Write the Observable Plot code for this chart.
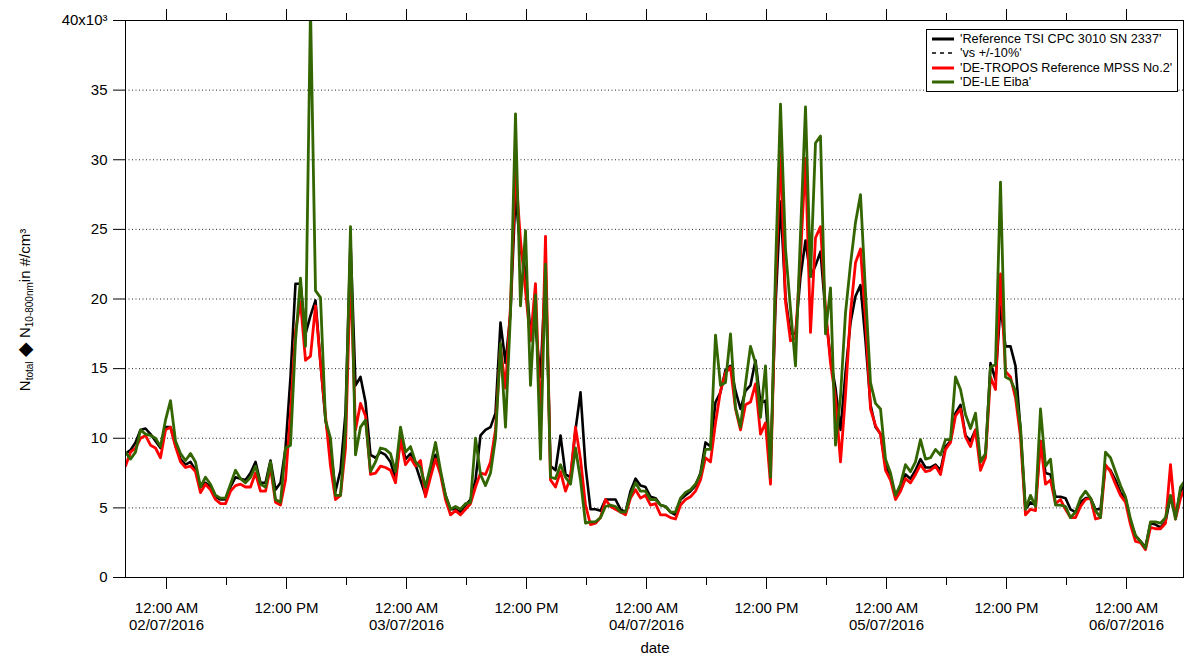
<!DOCTYPE html>
<html>
<head>
<meta charset="utf-8">
<script src="https://cdn.jsdelivr.net/npm/d3@7"></script>
<script src="https://cdn.jsdelivr.net/npm/@observablehq/plot@0.6"></script>
<style>
  body { margin: 0; background: #fff; font-family: "Liberation Sans", Arial, sans-serif; }
  #wrap { position: relative; width: 1184px; height: 655px; overflow: hidden; }
  #legend { position: absolute; left: 926px; top: 29px; width: 252px; height: 63px; border: 1px solid #000;
            background: #fff; font-size: 12.7px; box-sizing: border-box; padding-top: 2px; }
  #legend .row { height: 14.3px; line-height: 14.3px; white-space: nowrap; display: flex; align-items: center; }
  #legend svg { margin-left: 5px; margin-right: 6px; flex: none; }
  #ylab { position: absolute; left: 24px; top: 310px; transform: translate(-50%, -50%) rotate(-90deg);
          white-space: nowrap; font-size: 15px; }
  #ylab sub { font-size: 10px; vertical-align: -3px; }
  #ylab .dia { font-size: 19px; vertical-align: -1px; }
  #xlab { position: absolute; left: 655px; top: 640px; transform: translateX(-50%); font-size: 15px; line-height: 15px; }
</style>
</head>
<body>
<div id="wrap">
  <div id="chart"></div>
  <div id="legend"></div>
  <div id="ylab">N<sub>total</sub> <span class="dia">◆</span> N<sub>10-800nm</sub>in #/cm³</div>
  <div id="xlab">date</div>
</div>
<script>
// ---- Data (values in 10^3 #/cm³, 30-minute steps starting 01/07/2016 19:54) ----
const startTime = "2016-07-01T19:54:00Z";
const stepMinutes = 30;

const seriesNames = [
  "'Reference TSI CPC 3010 SN 2337'",
  "'vs +/-10%'",
  "'DE-TROPOS Reference MPSS No.2'",
  "'DE-LE Eiba'"
];
const seriesColors = ["#000000", "#000000", "#ff0000", "#336600"];

const refCPC = [
  8.9, 9.15, 9.7, 10.6, 10.7, 10.3, 9.8, 9.3, 10.8, 10.8,
  9.5, 8.5, 8.1, 8.3, 7.7, 6.5, 6.8, 6.5, 5.8, 5.6,
  5.6, 6.5, 7.2, 7.1, 7.0, 7.5, 8.3, 6.8, 6.8, 8.4,
  6.3, 6.8, 9.3, 14.4, 21.1, 21.1, 17.5, 18.8, 19.9, 15.4,
  11.3, 9.3, 6.2, 7.7, 11.8, 24.2, 13.8, 14.4, 12.6, 8.8,
  8.6, 9.0, 8.8, 8.3, 7.1, 10.0, 8.5, 8.9, 8.1, 7.0,
  5.9, 7.7, 8.8, 7.5, 5.9, 4.9, 4.9, 4.7, 5.2, 5.6,
  7.0, 10.2, 10.6, 10.8, 11.8, 18.3, 15.4, 19.0, 27.5, 23.6,
  22.0, 17.5, 18.0, 14.4, 22.1, 8.0, 7.7, 10.2, 7.4, 7.2,
  10.6, 13.3, 8.0, 4.9, 4.9, 4.8, 5.6, 5.6, 5.6, 4.9,
  4.7, 6.2, 7.1, 6.6, 6.5, 5.8, 5.7, 5.2, 5.1, 4.7,
  4.5, 5.6, 5.9, 6.2, 6.6, 7.5, 9.7, 9.4, 12.6, 13.3,
  14.9, 15.2, 13.4, 12.1, 13.4, 13.8, 15.6, 12.5, 12.7, 8.0,
  19.5, 27.0, 20.1, 17.5, 17.5, 21.6, 24.2, 21.6, 22.4, 23.4,
  19.0, 15.7, 13.6, 10.6, 14.7, 18.3, 20.2, 21.0, 17.0, 12.4,
  10.8, 10.3, 8.0, 7.2, 5.8, 6.5, 7.4, 7.1, 7.7, 8.5,
  7.9, 7.9, 8.1, 7.7, 9.4, 9.8, 11.8, 12.4, 10.2, 9.8,
  10.6, 8.4, 8.8, 15.4, 14.2, 19.5, 16.6, 16.6, 15.2, 10.6,
  4.9, 5.4, 5.2, 9.8, 7.5, 7.4, 5.8, 5.8, 5.7, 4.9,
  4.7, 5.4, 5.7, 5.7, 4.9, 4.9, 8.0, 7.7, 7.0, 6.1,
  5.7, 4.0, 3.0, 2.6, 2.2, 3.9, 3.8, 3.6, 4.0, 5.8,
  4.4, 6.2, 6.7
];

const troposMPSS = [
  8.0, 9.0, 9.3, 10.0, 10.2, 9.5, 9.3, 8.6, 10.6, 10.8,
  9.4, 8.3, 7.9, 8.0, 7.6, 6.1, 6.7, 6.3, 5.6, 5.3,
  5.3, 6.2, 6.6, 6.7, 6.5, 6.5, 7.5, 6.2, 6.2, 7.9,
  5.4, 5.2, 7.0, 11.8, 17.7, 19.8, 15.6, 15.9, 19.5, 15.4,
  11.6, 8.0, 5.6, 5.9, 9.3, 22.1, 10.6, 12.5, 11.6, 7.4,
  7.5, 8.0, 7.9, 7.7, 6.8, 9.9, 8.1, 8.6, 8.0, 8.4,
  5.8, 7.2, 8.5, 7.4, 5.6, 4.5, 4.8, 4.5, 4.9, 5.3,
  6.5, 7.5, 7.4, 8.3, 10.6, 16.5, 13.6, 19.5, 29.3, 24.2,
  20.6, 17.0, 21.1, 10.6, 24.5, 7.0, 6.5, 7.6, 6.2, 7.2,
  10.8, 8.5, 5.2, 3.8, 3.9, 4.3, 5.6, 5.1, 4.9, 4.7,
  4.5, 5.7, 6.3, 5.7, 5.9, 5.2, 5.3, 4.5, 4.5, 4.3,
  4.2, 5.2, 5.6, 5.8, 6.2, 7.0, 8.6, 8.3, 11.1, 13.4,
  14.7, 15.1, 12.1, 10.6, 12.4, 12.6, 13.9, 10.3, 11.1, 6.7,
  20.8, 30.6, 19.8, 17.0, 17.2, 23.0, 30.1, 17.6, 24.4, 25.2,
  19.3, 15.4, 12.9, 8.3, 13.1, 19.0, 22.6, 23.6, 18.5, 12.1,
  10.9, 10.3, 7.7, 7.0, 5.6, 6.2, 7.1, 6.8, 7.4, 8.1,
  7.6, 7.7, 8.0, 7.4, 9.2, 9.7, 11.6, 12.1, 10.1, 9.4,
  10.6, 7.7, 8.6, 14.4, 13.5, 21.8, 14.8, 14.4, 12.9, 10.1,
  4.5, 4.9, 4.8, 9.8, 6.7, 7.0, 5.3, 5.6, 4.9, 4.3,
  4.3, 5.1, 5.6, 5.7, 4.2, 4.3, 8.1, 7.6, 6.7, 5.9,
  5.4, 3.8, 2.6, 2.5, 2.0, 3.6, 3.5, 3.5, 3.9, 8.1,
  4.2, 5.7, 6.5
];

const leEiba = [
  9.0, 8.5, 9.0, 10.6, 10.3, 10.2, 10.0, 9.4, 11.3, 12.7,
  9.8, 8.9, 8.4, 8.9, 8.3, 6.5, 7.2, 6.7, 5.9, 5.7,
  5.7, 6.7, 7.7, 7.1, 6.8, 7.2, 8.0, 6.7, 6.5, 8.3,
  5.6, 5.4, 9.3, 9.5, 17.0, 21.5, 16.6, 41.0, 20.6, 20.1,
  11.3, 10.0, 5.9, 5.9, 10.6, 25.2, 8.8, 10.8, 11.3, 7.6,
  8.3, 9.3, 9.2, 8.9, 7.6, 10.8, 9.0, 9.4, 8.3, 7.9,
  6.5, 8.0, 9.7, 7.7, 5.9, 4.9, 5.1, 4.9, 5.3, 5.4,
  10.0, 7.4, 6.6, 7.5, 10.0, 16.8, 10.8, 19.0, 33.3, 19.5,
  24.9, 13.8, 20.3, 8.5, 22.5, 7.2, 7.1, 8.1, 7.2, 6.7,
  9.3, 7.0, 3.9, 4.0, 4.0, 4.3, 5.1, 5.2, 5.1, 4.7,
  4.7, 5.9, 6.8, 6.2, 6.2, 5.6, 5.6, 5.2, 5.1, 4.7,
  4.7, 5.7, 6.1, 6.3, 6.7, 7.4, 9.2, 9.2, 17.4, 13.8,
  14.0, 17.5, 12.2, 10.8, 13.9, 16.6, 15.4, 11.5, 15.2, 7.2,
  22.1, 34.0, 23.6, 19.3, 15.2, 24.7, 33.8, 21.6, 31.2, 31.7,
  17.5, 20.8, 9.5, 13.0, 19.0, 22.5, 25.5, 27.5, 20.5, 14.0,
  12.5, 12.1, 8.5, 7.5, 5.9, 6.7, 8.1, 7.6, 8.3, 9.9,
  8.5, 8.6, 9.2, 8.8, 9.9, 9.9, 14.4, 13.5, 11.7, 10.7,
  11.8, 8.3, 8.9, 15.1, 15.3, 28.4, 14.4, 14.2, 13.4, 10.8,
  4.9, 5.9, 5.1, 12.1, 8.0, 8.5, 5.2, 5.2, 5.1, 4.3,
  4.7, 5.7, 6.2, 5.7, 4.8, 4.3, 9.0, 8.6, 7.6, 6.6,
  5.8, 4.2, 3.0, 2.6, 2.1, 4.0, 4.0, 3.9, 4.3, 5.9,
  4.2, 6.5, 7.0
];

// Axis ticks
const yTicks = [0, 5, 10, 15, 20, 25, 30, 35, 40];
const yGridTicks = [5, 10, 15, 20, 25, 30, 35];
const xMajorTicks = [
  "2016-07-02T00:00:00Z", "2016-07-02T12:00:00Z", "2016-07-03T00:00:00Z", "2016-07-03T12:00:00Z",
  "2016-07-04T00:00:00Z", "2016-07-04T12:00:00Z", "2016-07-05T00:00:00Z", "2016-07-05T12:00:00Z",
  "2016-07-06T00:00:00Z"
];
const xMajorLabels = [
  "12:00 AM\n02/07/2016", "12:00 PM", "12:00 AM\n03/07/2016", "12:00 PM",
  "12:00 AM\n04/07/2016", "12:00 PM", "12:00 AM\n05/07/2016", "12:00 PM",
  "12:00 AM\n06/07/2016"
];
const xMinorTicks = [
  "2016-07-02T06:00:00Z", "2016-07-02T18:00:00Z", "2016-07-03T06:00:00Z", "2016-07-03T18:00:00Z",
  "2016-07-04T06:00:00Z", "2016-07-04T18:00:00Z", "2016-07-05T06:00:00Z", "2016-07-05T18:00:00Z"
];
const xDomain = ["2016-07-01T19:54:00Z", "2016-07-06T05:42:00Z"];

// ---- Build table ----
const t0 = new Date(startTime).getTime();
function toRows(values, name) {
  return values.map((v, i) => ({ date: new Date(t0 + i * stepMinutes * 60000), value: v, series: name }));
}
const rowsRef = toRows(refCPC, seriesNames[0]);
const rowsTropos = toRows(troposMPSS, seriesNames[2]);
const rowsEiba = toRows(leEiba, seriesNames[3]);

const majorDates = xMajorTicks.map(d => new Date(d));
const minorDates = xMinorTicks.map(d => new Date(d));

const chart = Plot.plot({
  width: 1184,
  height: 655,
  marginLeft: 125,
  marginRight: 1,
  marginTop: 20,
  marginBottom: 78,
  style: { fontFamily: "'Liberation Sans', Arial, sans-serif", fontSize: "15px", color: "#000", background: "#fff" },
  x: { type: "utc", domain: xDomain.map(d => new Date(d)) },
  y: { domain: [0, 40] },
  marks: [
    Plot.gridY(yGridTicks, { stroke: "#000", strokeOpacity: 0.85, strokeDasharray: "1,2.5", strokeWidth: 1 }),
    Plot.line(rowsRef, { x: "date", y: "value", stroke: seriesColors[0], strokeWidth: 2.6, clip: true }),
    Plot.line(rowsTropos, { x: "date", y: "value", stroke: seriesColors[2], strokeWidth: 2.8, clip: true }),
    Plot.line(rowsEiba, { x: "date", y: "value", stroke: seriesColors[3], strokeWidth: 2.8, clip: true }),
    Plot.frame({ stroke: "#000", strokeWidth: 1 }),
    Plot.axisY({
      ticks: yTicks, tickSize: 12, tickPadding: 6, fontSize: 15, label: null,
      tickFormat: d => d === 40 ? "40x10³" : String(d)
    }),
    Plot.axisX({
      anchor: "bottom", ticks: majorDates, tickSize: 12, tickPadding: 12, fontSize: 15, lineHeight: 1.1, label: null,
      tickFormat: d => xMajorLabels[majorDates.findIndex(m => +m === +d)]
    }),
    Plot.axisX({ anchor: "bottom", ticks: minorDates, tickSize: 8, tickFormat: () => "", label: null }),
    Plot.axisX({ anchor: "top", ticks: majorDates, tickSize: 12, tickFormat: () => "", label: null }),
    Plot.axisX({ anchor: "top", ticks: minorDates, tickSize: 8, tickFormat: () => "", label: null })
  ]
});
document.getElementById("chart").appendChild(chart);

// ---- Legend ----
const legend = document.getElementById("legend");
seriesNames.forEach((name, i) => {
  const row = document.createElement("div");
  row.className = "row";
  const dash = i === 1 ? ' stroke-dasharray="4,4"' : "";
  const sw = i === 1 ? 1.3 : 3;
  row.innerHTML = `<svg width="22" height="10"><line x1="0" x2="22" y1="5" y2="5" stroke="${seriesColors[i]}" stroke-width="${sw}"${dash}/></svg><span>${name}</span>`;
  legend.appendChild(row);
});
</script>
</body>
</html>
